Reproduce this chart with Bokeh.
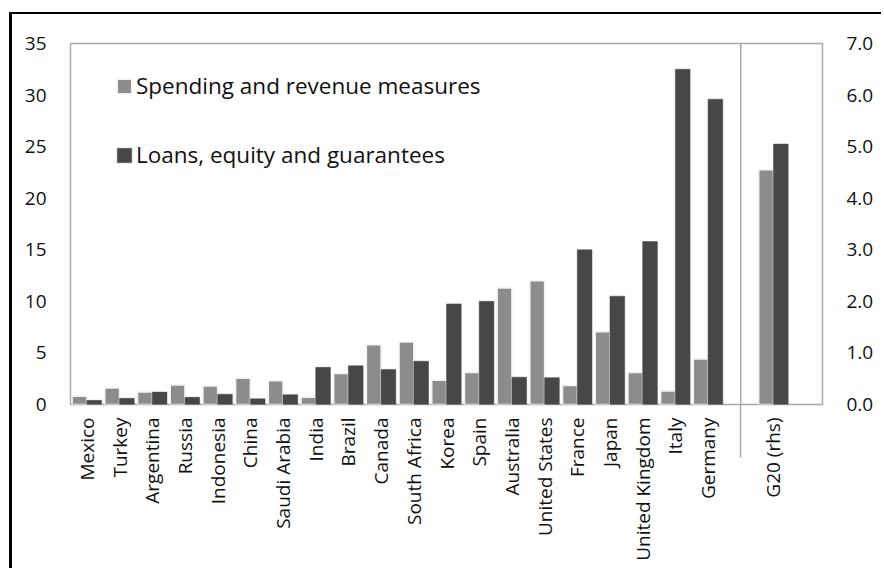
import math
from bokeh.plotting import figure
from bokeh.models import (Range1d, LinearAxis, FixedTicker, NumeralTickFormatter,
                          ColumnDataSource, Legend, LegendItem, Span)
from bokeh.embed import file_html
from bokeh.resources import INLINE

# ---- data ----
countries = ["Mexico", "Turkey", "Argentina", "Russia", "Indonesia", "China",
             "Saudi Arabia", "India", "Brazil", "Canada", "South Africa", "Korea",
             "Spain", "Australia", "United States", "France", "Japan",
             "United Kingdom", "Italy", "Germany"]
spending = [0.8, 1.6, 1.2, 1.9, 1.8, 2.55, 2.3, 0.7, 3.0, 5.8, 6.05, 2.35,
            3.1, 11.3, 12.0, 1.85, 7.05, 3.1, 1.3, 4.4]
loans = [0.4, 0.6, 1.2, 0.7, 1.0, 0.55, 0.95, 3.6, 3.75, 3.4, 4.2, 9.75,
         10.0, 2.65, 2.6, 15.0, 10.5, 15.8, 32.5, 29.6]
g20_label = "G20 (rhs)"
g20_spending = [4.55]
g20_loans = [5.05]
left_ticks = [0, 5, 10, 15, 20, 25, 30, 35]
right_ticks = [0.0, 1.0, 2.0, 3.0, 4.0, 5.0, 6.0, 7.0]
series_names = ["Spending and revenue measures", "Loans, equity and guarantees"]

# ---- styling ----
FONT = "Open Sans"
TXT = "#111111"
LIGHT = "#8c8c8c"
DARK = "#474747"
FRAME = "#a9a9a9"

n = len(countries)
slots = n + 3                      # countries, separator slot, G20, empty slot
x_c = [i + 0.5 for i in range(n)]
sep_x = n + 0.5
x_g = [n + 1.5]
off, bw = 0.225, 0.45

src = ColumnDataSource(dict(
    xs=[x - off for x in x_c], xl=[x + off for x in x_c],
    spending=spending, loans=loans))
src_g = ColumnDataSource(dict(
    xs=[x - off for x in x_g], xl=[x + off for x in x_g],
    spending=g20_spending, loans=g20_loans))

p = figure(width=872, height=556, output_backend="svg", toolbar_location=None,
           x_range=Range1d(0, slots), y_range=Range1d(left_ticks[0], left_ticks[-1]),
           min_border_left=58, min_border_right=62, min_border_top=29,
           min_border_bottom=166)
p.extra_y_ranges = {"rhs": Range1d(right_ticks[0], right_ticks[-1])}
p.styles = {"border-top": "2px solid black", "border-left": "3px solid black",
            "margin-left": "9px", "margin-top": "12px"}

p.background_fill_color = "white"
p.border_fill_color = "white"
p.outline_line_color = FRAME
p.outline_line_width = 1.5
p.grid.visible = False

r1 = p.vbar(x="xs", top="spending", width=bw, source=src, fill_color=LIGHT,
            line_color="#f2f2f2", line_width=1.5)
r2 = p.vbar(x="xl", top="loans", width=bw, source=src, fill_color=DARK,
            line_color=DARK, line_width=0.5)
p.vbar(x="xs", top="spending", width=bw, source=src_g, fill_color=LIGHT,
       line_color="#f2f2f2", line_width=1.5, y_range_name="rhs")
p.vbar(x="xl", top="loans", width=bw, source=src_g, fill_color=DARK,
       line_color=DARK, line_width=0.5, y_range_name="rhs")

# separator between countries and G20 (inside the frame)
p.add_layout(Span(location=sep_x, dimension="height", line_color=FRAME,
                  line_width=1.5))

# axes
xa = p.xaxis[0]
xa.ticker = FixedTicker(ticks=x_c + x_g, minor_ticks=[sep_x])
overrides = {x: c for x, c in zip(x_c, countries)}
overrides[x_g[0]] = g20_label
xa.major_label_overrides = overrides
xa.major_label_orientation = math.pi / 2
xa.axis_line_color = None
xa.major_tick_line_color = None
xa.minor_tick_in = 0
xa.minor_tick_out = 53
xa.minor_tick_line_color = FRAME
xa.minor_tick_line_width = 1.5
xa.major_label_standoff = -40

ya = p.yaxis[0]
ya.ticker = FixedTicker(ticks=left_ticks)
ya.axis_line_color = None
ya.major_tick_line_color = None
ya.minor_tick_line_color = None
ya.major_label_standoff = 18

yr = LinearAxis(y_range_name="rhs", ticker=FixedTicker(ticks=right_ticks),
                formatter=NumeralTickFormatter(format="0.0"))
yr.axis_line_color = None
yr.major_tick_line_color = None
yr.minor_tick_line_color = None
yr.major_label_standoff = 18
p.add_layout(yr, "right")

for ax in (xa, ya, yr):
    ax.major_label_text_font = FONT
    ax.major_label_text_color = TXT
xa.major_label_text_font_size = "19px"
ya.major_label_text_font_size = "19px"
yr.major_label_text_font_size = "19px"

legend = Legend(items=[LegendItem(label=series_names[0], renderers=[r1]),
                       LegendItem(label=series_names[1], renderers=[r2])],
                location=(45, 234))
legend.border_line_color = None
legend.background_fill_alpha = 0
legend.padding = 0
legend.margin = 0
legend.spacing = 38
legend.glyph_width = 18
legend.glyph_height = 18
legend.label_height = 30
legend.label_standoff = 3
legend.label_text_font = FONT
legend.label_text_font_size = "22.5px"
legend.label_text_color = TXT
p.add_layout(legend)

open("out.html", "w").write(file_html(p, INLINE))
